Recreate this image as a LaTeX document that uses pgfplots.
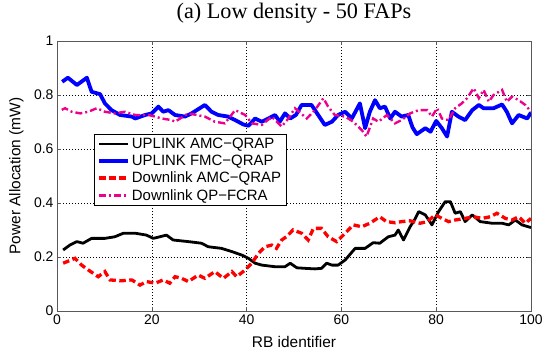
\documentclass[border=0pt]{standalone}
\usepackage{fontspec}
\setmainfont{Liberation Serif}
\setsansfont{Liberation Sans}
\usepackage{pgfplots}
\pgfplotsset{compat=1.18}
\usetikzlibrary{calc}

\pgfplotstableread{
x y
1.1 0.849
2.3 0.864
4.2 0.837
6.3 0.864
7.3 0.812
9.1 0.803
10.1 0.769
11.5 0.744
13.3 0.726
15.8 0.720
16.5 0.713
18.6 0.726
20.0 0.732
21.4 0.757
22.4 0.738
23.5 0.744
24.9 0.726
27.0 0.720
28.4 0.732
31.2 0.763
32.6 0.738
34.0 0.726
36.1 0.720
37.6 0.707
39.3 0.691
40.4 0.686
41.8 0.713
43.2 0.701
44.6 0.713
46.0 0.726
47.0 0.701
48.1 0.732
49.2 0.713
50.4 0.726
51.6 0.763
53.7 0.763
55.1 0.726
56.5 0.689
58.0 0.701
59.3 0.726
60.8 0.738
62.2 0.713
63.9 0.769
65.0 0.677
66.0 0.738
67.1 0.781
68.1 0.751
69.2 0.757
70.3 0.713
71.3 0.738
72.7 0.720
74.1 0.726
75.0 0.680
75.9 0.655
77.7 0.677
78.8 0.664
80.0 0.704
81.2 0.677
82.3 0.646
83.3 0.738
84.7 0.720
86.1 0.707
87.6 0.744
89.0 0.763
90.0 0.751
92.1 0.751
93.9 0.765
94.9 0.738
96.0 0.695
97.4 0.726
99.2 0.713
100 0.735
}\blueT

\pgfplotstableread{
x y
1.0 0.745
1.7 0.751
3.1 0.738
4.9 0.732
6.6 0.738
8.4 0.751
10.1 0.738
12.2 0.732
14.3 0.738
16.5 0.726
19.3 0.726
20.7 0.720
22.1 0.713
24.2 0.707
24.9 0.701
27.7 0.732
31.2 0.720
33.3 0.701
35.4 0.695
37.6 0.744
39.7 0.726
41.1 0.695
43.2 0.689
45.3 0.720
47.4 0.683
48.8 0.713
50.2 0.751
52.7 0.713
54.4 0.744
56.2 0.788
57.2 0.757
58.6 0.726
60.8 0.720
62.5 0.701
64.3 0.670
65.3 0.646
66.7 0.713
67.8 0.701
69.6 0.726
71.3 0.695
72.7 0.707
74.5 0.732
76.3 0.744
78.1 0.744
79.1 0.720
80.2 0.751
81.2 0.713
82.6 0.707
84.0 0.751
85.4 0.769
86.5 0.788
87.9 0.825
89.0 0.788
90.0 0.819
91.1 0.775
92.1 0.800
93.9 0.819
94.9 0.775
96.0 0.794
97.4 0.781
98.8 0.763
100 0.738
}\magT

\pgfplotstableread{
x y
1.3 0.226
2.7 0.244
4.2 0.257
5.5 0.251
7.3 0.269
10.1 0.269
12.2 0.275
14.0 0.288
16.5 0.288
18.9 0.281
20.3 0.269
21.7 0.275
23.1 0.281
24.5 0.263
27.7 0.257
30.5 0.251
31.9 0.238
34.7 0.232
36.9 0.220
39.0 0.207
40.4 0.195
41.8 0.177
43.2 0.170
46.0 0.164
48.1 0.164
49.2 0.177
50.6 0.160
52.3 0.158
54.4 0.156
55.8 0.158
56.9 0.177
58.0 0.170
59.3 0.170
60.8 0.189
62.9 0.232
65.0 0.232
66.7 0.253
68.1 0.251
69.9 0.275
71.3 0.281
72.0 0.300
73.1 0.263
74.5 0.312
75.5 0.340
76.3 0.368
77.7 0.356
79.1 0.319
80.5 0.368
81.9 0.405
83.0 0.405
84.0 0.362
85.1 0.368
86.1 0.331
87.6 0.356
89.3 0.331
91.8 0.325
93.9 0.325
95.3 0.319
96.7 0.337
98.1 0.319
100 0.309
}\blackT

\pgfplotstableread{
x y
1.3 0.177
3.8 0.195
5.2 0.170
6.6 0.152
8.7 0.127
10.1 0.146
11.2 0.115
13.6 0.112
15.8 0.115
17.5 0.096
18.9 0.109
20.7 0.103
22.4 0.115
23.8 0.103
24.9 0.127
26.3 0.121
27.7 0.109
29.8 0.133
31.2 0.121
33.3 0.146
35.1 0.121
36.9 0.146
37.9 0.127
39.7 0.152
41.1 0.177
42.5 0.214
43.9 0.238
45.3 0.244
46.3 0.232
47.4 0.263
48.4 0.275
49.8 0.300
51.6 0.288
53.0 0.263
54.1 0.306
55.8 0.306
57.2 0.275
59.0 0.257
60.8 0.288
62.5 0.319
64.3 0.312
66.0 0.325
68.1 0.349
69.5 0.331
71.3 0.327
72.7 0.331
74.5 0.334
76.6 0.325
78.1 0.331
79.8 0.356
81.2 0.343
82.6 0.331
84.0 0.337
86.1 0.343
87.9 0.349
89.7 0.343
91.4 0.349
92.8 0.362
94.6 0.343
96.0 0.337
97.4 0.349
98.8 0.325
100 0.343
}\redT

\begin{document}
\begin{tikzpicture}
\begin{axis}[
  name=ax,
  scale only axis, width=474bp, height=270bp,
  xmin=0, xmax=100, ymin=0, ymax=1,
  xtick={0,20,40,60,80,100},
  ytick={0,0.2,0.4,0.6,0.8,1},
  yticklabels={0,0.2,0.4,0.6,0.8,1},
  tick align=inside, major tick length=4bp,
  xtick pos=both, ytick pos=both,
  grid=major,
  grid style={black, line width=0.5pt, dash pattern=on 1pt off 2pt},
  axis line style={black!65, line width=0.8pt},
  tick style={black!65, line width=0.6pt},
  /pgf/number format/assume math mode=true,
  ticklabel style={font=\fontsize{14}{16}\sffamily},
  xlabel={RB identifier},
  ylabel={Power Allocation (mW)},
  label style={font=\fontsize{15.5}{17}\sffamily},
  xlabel style={at={(axis description cs:0.5,0)}, anchor=base, yshift=-36bp},
  ylabel style={at={(axis description cs:0,0.5)}, anchor=south, yshift=30bp},
  title={(a) Low density - 50 FAPs},
  title style={font=\fontsize{22.3}{26}\selectfont, at={(axis description cs:0.5,1)}, anchor=base, yshift=17bp},
  legend style={at={(0.078,0.656)}, anchor=north west, draw=black, fill=white,
    font=\fontsize{15}{17}\sffamily, row sep=1pt, inner xsep=3pt, inner ysep=2pt},
  legend cell align=left,
  legend image code/.code={\draw[#1] (0bp,0bp) -- (29bp,0bp);},
]
\addplot[black, line width=2.8bp, line join=round] table {\blackT};
\addlegendentry{UPLINK AMC−QRAP}
\addplot[blue, line width=3.8bp, line join=round] table {\blueT};
\addlegendentry{UPLINK FMC−QRAP}
\addplot[red, line width=3.3bp, dash pattern=on 6.5bp off 3.5bp] table {\redT};
\addlegendentry{Downlink AMC−QRAP}
\addplot[magenta, line width=2.4bp, dash pattern=on 7bp off 3bp on 2bp off 3bp] table {\magT};
\addlegendentry{Downlink QP−FCRA}
\end{axis}
\pgfresetboundingbox
\path[use as bounding box] ($(ax.south west)+(-57bp,-41bp)$) rectangle ($(ax.north east)+(18bp,41bp)$);
\end{tikzpicture}
\end{document}
